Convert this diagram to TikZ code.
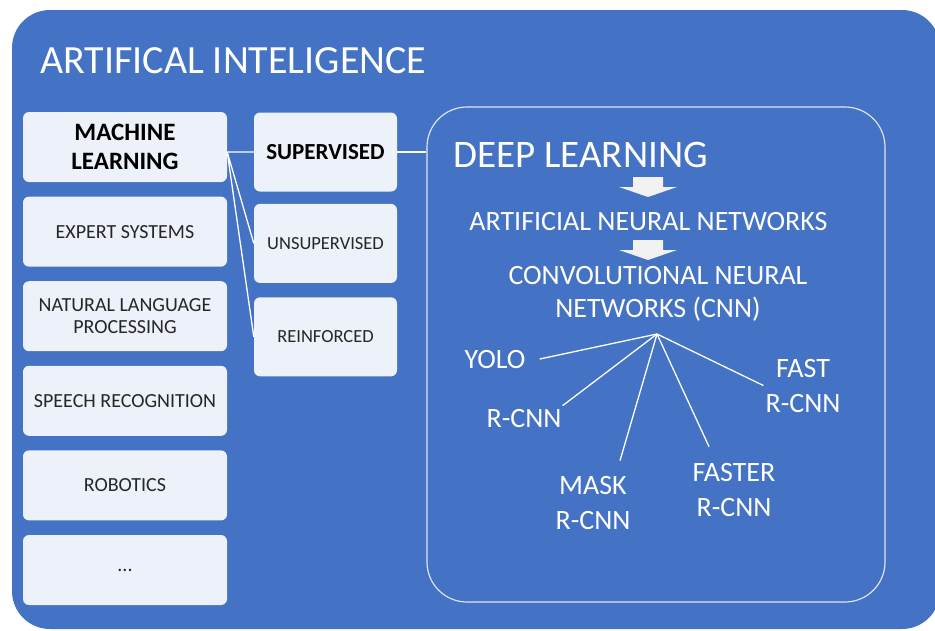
\documentclass[tikz,border=0pt]{standalone}
\usepackage{fontspec}
\setmainfont{Carlito}
\usepackage{tikz}
\usetikzlibrary{positioning,calc}
\definecolor{aiblue}{HTML}{4472C4}
\definecolor{boxfill}{HTML}{EDF1F9}
\definecolor{boxtext}{HTML}{262626}
\definecolor{dlline}{HTML}{DCE4F2}
\definecolor{arrowfill}{HTML}{F2F2F2}
\tikzset{
  field/.style={fill=boxfill, rounded corners=6pt, minimum width=204pt, minimum height=70pt, align=center, inner sep=0pt, text=boxtext, font=\fontsize{20}{22}\selectfont},
  mainfield/.style={field, text=black, font=\bfseries\fontsize{25}{29}\selectfont},
  kind/.style={field, minimum width=143pt, minimum height=79pt, font=\fontsize{18.5}{22}\selectfont},
  mainkind/.style={kind, text=black, font=\bfseries\fontsize{23}{27}\selectfont},
  model/.style={text=white, align=center, inner sep=0pt, font=\fontsize{28}{35}\selectfont},
  link/.style={draw=white, line width=1.3pt},
}

\begin{document}
\begin{tikzpicture}[x=1pt, y=-1pt]
    \useasboundingbox (0,0) rectangle (935,630);
    \fill[white] (0,0) rectangle (935,630);
    \fill[aiblue, rounded corners=38pt] (12,10) rectangle (940,629);
    \node[anchor=base west, inner sep=0pt, text=white, font=\fontsize{40}{48}\selectfont] (ai) at (40,73) {ARTIFICAL INTELIGENCE};

    % fields of AI
    \node[mainfield] (ml) at (125,147) {MACHINE\\LEARNING};
    \node[field, below=14.2pt of ml] (expert) {EXPERT SYSTEMS};
    \node[field, below=14.2pt of expert] (nlp) {NATURAL LANGUAGE\\PROCESSING};
    \node[field, below=14.2pt of nlp] (speech) {SPEECH RECOGNITION};
    \node[field, below=14.2pt of speech] (robotics) {ROBOTICS};
    \node[field, below=14.2pt of robotics] (more) {...};

    % kinds of learning
    \node[mainkind] (sup) at (325.5,152) {SUPERVISED};
    \node[kind, below=12pt of sup] (unsup) {UNSUPERVISED};
    \node[kind, below=14pt of unsup] (reinf) {REINFORCED};

    \draw[link] (ml.east |- sup.west) -- (sup.west)
    (ml.east |- sup.west) -- (unsup.west)
    (ml.east |- sup.west) -- (reinf.west);

    % deep learning
    \node[draw=dlline, line width=1.2pt, rounded corners=40pt, minimum width=458pt, minimum height=495pt, inner sep=0pt] (dl) at (656,354.5) {};
    \draw[link] (sup.east) -- (sup.east -| dl.west);

    \node[anchor=base west, inner sep=0pt, text=white, font=\fontsize{39}{46}\selectfont] (deep) at (453,167) {DEEP LEARNING};
    \node[model, anchor=base] (ann) at (648.5,230) {ARTIFICIAL NEURAL NETWORKS};
    \node[model, anchor=base, font=\fontsize{28}{33}\selectfont] (cnn) at (658,317) {CONVOLUTIONAL NEURAL\\NETWORKS (CNN)};
    \foreach \y in {177,240}
      \fill[arrowfill] (633,\y) -- (663,\y) -- (663,\y+10) -- (677,\y+10) -- (648,\y+20) -- (619,\y+10) -- (633,\y+10) -- cycle;

    \coordinate (hub) at (657,334);
    \node[model, anchor=base] (yolo) at (495,368) {YOLO};
    \node[model, anchor=base] (rcnn) at (524,427) {R-CNN};
    \node[model, anchor=base] (mask) at (593,529) {MASK\\R-CNN};
    \node[model, anchor=base] (faster) at (734,516) {FASTER\\R-CNN};
    \node[model, anchor=base] (fast) at (803,412) {FAST\\R-CNN};

    \draw[link] (hub) -- ([xshift=14pt]yolo.east);
    \draw[link] (hub) -- ([xshift=1pt,yshift=3pt]rcnn.north east);
    \draw[link] (hub) -- ([xshift=27pt,yshift=15pt]mask.north);
    \draw[link] (hub) -- ([xshift=-25pt,yshift=16pt]faster.north);
    \draw[link] (hub) -- ([xshift=-2pt]fast.west);
\end{tikzpicture}
\end{document}
